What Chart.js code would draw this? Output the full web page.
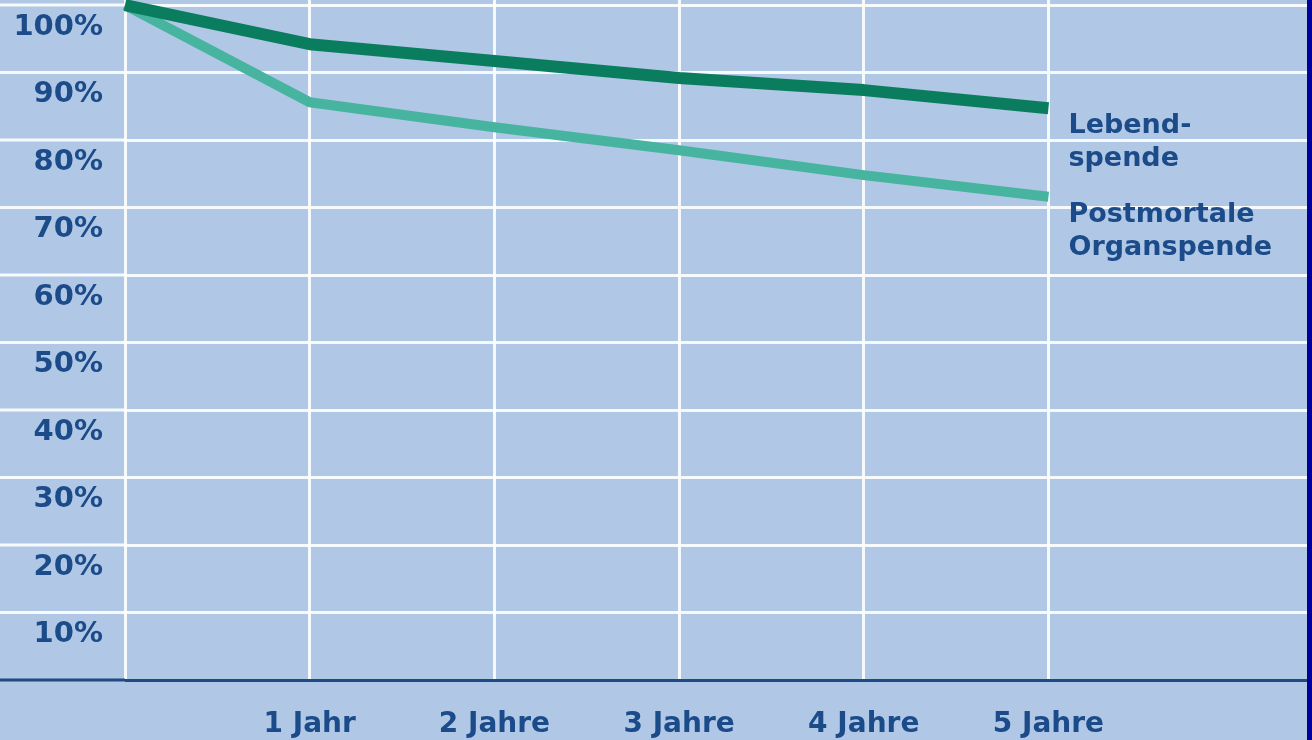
<!DOCTYPE html>
<html>
<head>
<meta charset="utf-8">
<script src="https://cdn.jsdelivr.net/npm/chart.js@4.4.1/dist/chart.umd.min.js"></script>
<style>
  html,body{margin:0;padding:0;background:#00009c;}
  #wrap{width:1307px;height:740px;background:#b0c8e6;position:relative;}
</style>
</head>
<body>
<div id="wrap"><canvas id="c"></canvas></div>
<script>
const years = [0, 1, 2, 3, 4, 5];
const yearLabels = ['', '1 Jahr', '2 Jahre', '3 Jahre', '4 Jahre', '5 Jahre'];
const lebendspende = [100, 94.2, 91.7, 89.2, 87.4, 84.7];
const postmortal = [100, 85.6, 81.9, 78.5, 74.8, 71.6];
const seriesNames = [['Lebend-', 'spende'], ['Postmortale', 'Organspende']];
const yTicks = [0, 10, 20, 30, 40, 50, 60, 70, 80, 90, 100];

const FONT = {family:'"DejaVu Sans", sans-serif', size:28, weight:'bold'};
const TEXT = '#1c4b8a';
const GRID = 'rgba(255,255,255,0.9)';
const AXIS = '#1f4a84';

const pts = vals => years.map((x,i)=>({x, y:vals[i]}));

// stretch the horizontal grid lines under the y labels too
const gridExtend = {
  id:'gridExtend',
  beforeDatasetsDraw(chart){
    const {ctx, chartArea, scales:{y}} = chart;
    ctx.save();
    yTicks.forEach(v=>{
      const py = y.getPixelForValue(v);
      ctx.strokeStyle = v===0 ? AXIS : GRID;
      ctx.lineWidth = 3;
      ctx.beginPath(); ctx.moveTo(0, py); ctx.lineTo(chartArea.left, py); ctx.stroke();
    });
    ctx.restore();
  }
};

const endLabels = {
  id:'endLabels',
  afterDatasetsDraw(chart){
    const {ctx} = chart;
    ctx.save();
    ctx.font = 'bold 27px "DejaVu Sans", sans-serif';
    ctx.fillStyle = TEXT;
    ctx.textAlign = 'left';
    ctx.textBaseline = 'middle';
    chart.data.datasets.forEach((ds,i)=>{
      const pt = chart.getDatasetMeta(i).data[years.length-1];
      seriesNames[i].forEach((line,j)=>ctx.fillText(line, pt.x+20, pt.y+18+j*33));
    });
    ctx.restore();
  }
};

new Chart(document.getElementById('c'), {
  type:'line',
  data:{datasets:[
    {label:'Lebendspende', data:pts(lebendspende), borderColor:'#0b7d5f', borderWidth:12},
    {label:'Postmortale Organspende', data:pts(postmortal), borderColor:'#47b4a0', borderWidth:10}
  ]},
  options:{
    responsive:true, maintainAspectRatio:false, animation:false,
    layout:{padding:0},
    elements:{line:{tension:0, borderCapStyle:'butt', borderJoinStyle:'round'}, point:{radius:0}},
    datasets:{line:{clip:false}},
    plugins:{legend:{display:false}, tooltip:{enabled:false}},
    scales:{
      x:{type:'linear', min:0, max:6.4,
        afterBuildTicks:s=>{ s.ticks = years.map(v=>({value:v})); },
        afterFit:s=>{ s.height = 60; s.paddingLeft = 0; s.paddingRight = 0; },
        grid:{color:GRID, lineWidth:3, drawTicks:false},
        border:{display:false},
        ticks:{font:FONT, color:TEXT, padding:28, maxRotation:0, autoSkip:false,
          callback:v=>yearLabels[years.indexOf(v)] ?? ''}
      },
      y:{min:0, max:100.75,
        afterBuildTicks:s=>{ s.ticks = yTicks.map(v=>({value:v})); },
        afterFit:s=>{ s.width = 125; s.paddingTop = 0; s.paddingBottom = 0; },
        grid:{color:c=>c.tick && c.tick.value===0 ? AXIS : GRID, lineWidth:3, drawTicks:false},
        border:{display:false},
        ticks:{font:{...FONT, size:29}, color:TEXT, padding:22, labelOffset:22, autoSkip:false,
          callback:v=>v===0 ? '' : v+'%'}
      }
    }
  },
  plugins:[gridExtend, endLabels]
});
</script>
</body>
</html>
